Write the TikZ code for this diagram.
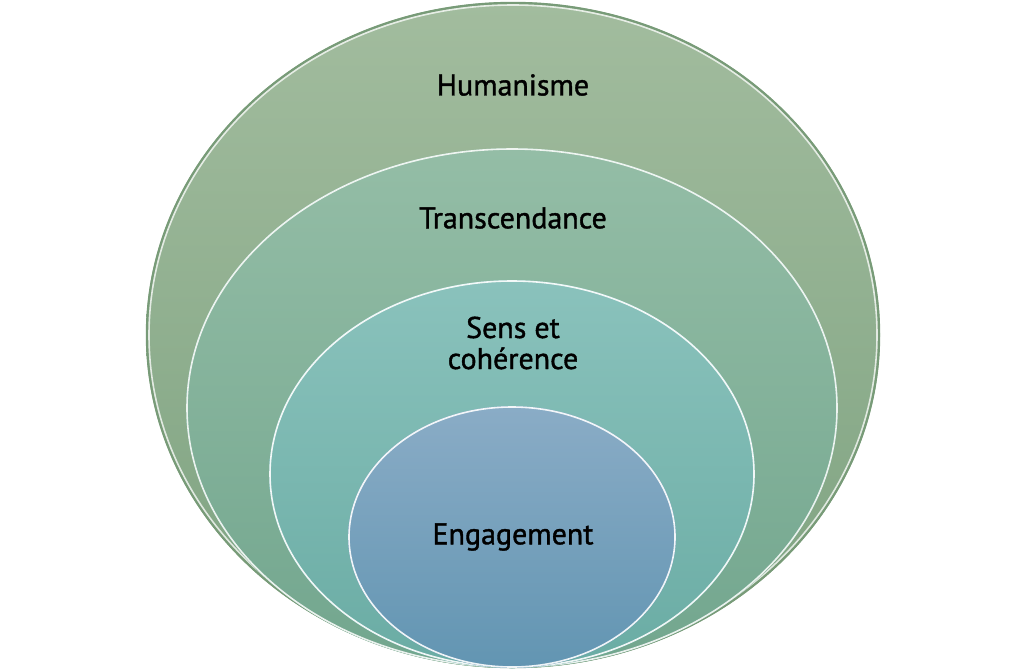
\documentclass[tikz,border=0pt]{standalone}
\usepackage{fontspec}
\setmainfont{PT Sans}
\newfontfamily\lblfont{PT Sans}[RawFeature={embolden=1.2}]
\definecolor{oTop}{RGB}{162,188,158}
\definecolor{oBot}{RGB}{125,162,128}
\definecolor{oRim}{RGB}{120,155,120}
\definecolor{sTop}{RGB}{148,189,166}
\definecolor{sBot}{RGB}{114,166,142}
\definecolor{tTop}{RGB}{138,194,188}
\definecolor{tBot}{RGB}{106,172,164}
\definecolor{fTop}{RGB}{138,172,198}
\definecolor{fBot}{RGB}{98,149,178}
\begin{document}
\begin{tikzpicture}[x=1pt,y=-1pt,
  rim/.style={draw=white, line width=1.6pt},
  darkrim/.style={draw=oRim, line width=2.4pt},
  lbl/.style={font=\lblfont\fontsize{30}{31}\selectfont, text=black, align=center, inner sep=0pt}]
\useasboundingbox (0,0) rectangle (1024,670);
% outer
\shade[top color=oTop, bottom color=oBot]
  (513,335) ellipse [x radius=367pt, y radius=333pt];
\draw[darkrim] (513,335) ellipse [x radius=366pt, y radius=332pt];
\draw[rim, draw opacity=0.75] (513,335) ellipse [x radius=364pt, y radius=330pt];
% second
\shade[top color=sTop, bottom color=sBot]
  (512,408) ellipse [x radius=326pt, y radius=260pt];
\draw[rim, draw opacity=0.85] (512,408) ellipse [x radius=325pt, y radius=259pt];
% third
\shade[top color=tTop, bottom color=tBot]
  (512,474) ellipse [x radius=243pt, y radius=194pt];
\draw[rim, draw opacity=0.9] (512,474) ellipse [x radius=242pt, y radius=193pt];
% fourth
\shade[top color=fTop, bottom color=fBot]
  (512,537) ellipse [x radius=164pt, y radius=131pt];
\draw[rim, draw opacity=0.9] (512,537) ellipse [x radius=163pt, y radius=130pt];
% labels
\node[lbl] (hum) at (513,85) {Humanisme};
\node[lbl] (tra) at (513,218) {Transcendance};
\node[lbl] (sens) at (513,343) {Sens et\\cohérence};
\node[lbl] (eng) at (513,537) {Engagement};
\end{tikzpicture}
\end{document}
